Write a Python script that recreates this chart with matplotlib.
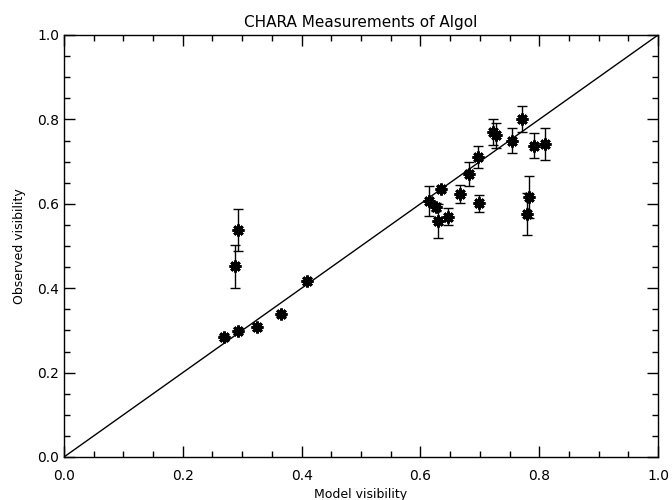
import matplotlib
matplotlib.use("Agg")
import matplotlib.pyplot as plt
from matplotlib.ticker import MultipleLocator

# model vs observed visibility, with errors on the observed values
model = [0.269, 0.293, 0.325, 0.365, 0.409, 0.288, 0.293,
         0.614, 0.634, 0.626, 0.629, 0.646, 0.667, 0.682, 0.698, 0.697,
         0.783, 0.779, 0.771, 0.755, 0.792, 0.810, 0.722, 0.728]
observed = [0.284, 0.299, 0.308, 0.339, 0.417, 0.452, 0.538,
            0.607, 0.636, 0.593, 0.559, 0.569, 0.623, 0.671, 0.601, 0.711,
            0.617, 0.575, 0.801, 0.750, 0.738, 0.741, 0.770, 0.762]
err = [0.006, 0.006, 0.006, 0.006, 0.006, 0.051, 0.050,
       0.036, 0.006, 0.010, 0.040, 0.020, 0.021, 0.028, 0.020, 0.025,
       0.050, 0.050, 0.031, 0.029, 0.030, 0.038, 0.030, 0.030]

fig = plt.figure(figsize=(6.72, 5.0), dpi=100)
ax = fig.add_axes([0.0952, 0.086, 0.884, 0.844])

ax.plot([0, 1], [0, 1], color="black", lw=1)
ax.errorbar(model, observed, yerr=err, fmt="none", ecolor="black",
            elinewidth=1, capsize=3.5, capthick=1)
ax.plot(model, observed, ls="none", marker=(8, 2, 0), ms=8.5, mew=2,
        color="black")

ax.set_xlim(0, 1)
ax.set_ylim(0, 1)
ax.xaxis.set_major_locator(MultipleLocator(0.2))
ax.xaxis.set_minor_locator(MultipleLocator(0.05))
ax.yaxis.set_major_locator(MultipleLocator(0.2))
ax.yaxis.set_minor_locator(MultipleLocator(0.05))
ax.tick_params(which="both", direction="in", top=True, right=True,
               labelsize=10, width=1)
ax.tick_params(which="major", length=8)
ax.tick_params(which="minor", length=4)
ax.tick_params(axis="x", which="major", pad=9)
for s in ax.spines.values():
    s.set_linewidth(1)

ax.set_title("CHARA Measurements of Algol", fontsize=11, pad=6)
ax.set_xlabel("Model visibility", fontsize=9, labelpad=3)
ax.set_ylabel("Observed visibility", fontsize=9, labelpad=8)

fig.savefig("out.png", dpi=100)
